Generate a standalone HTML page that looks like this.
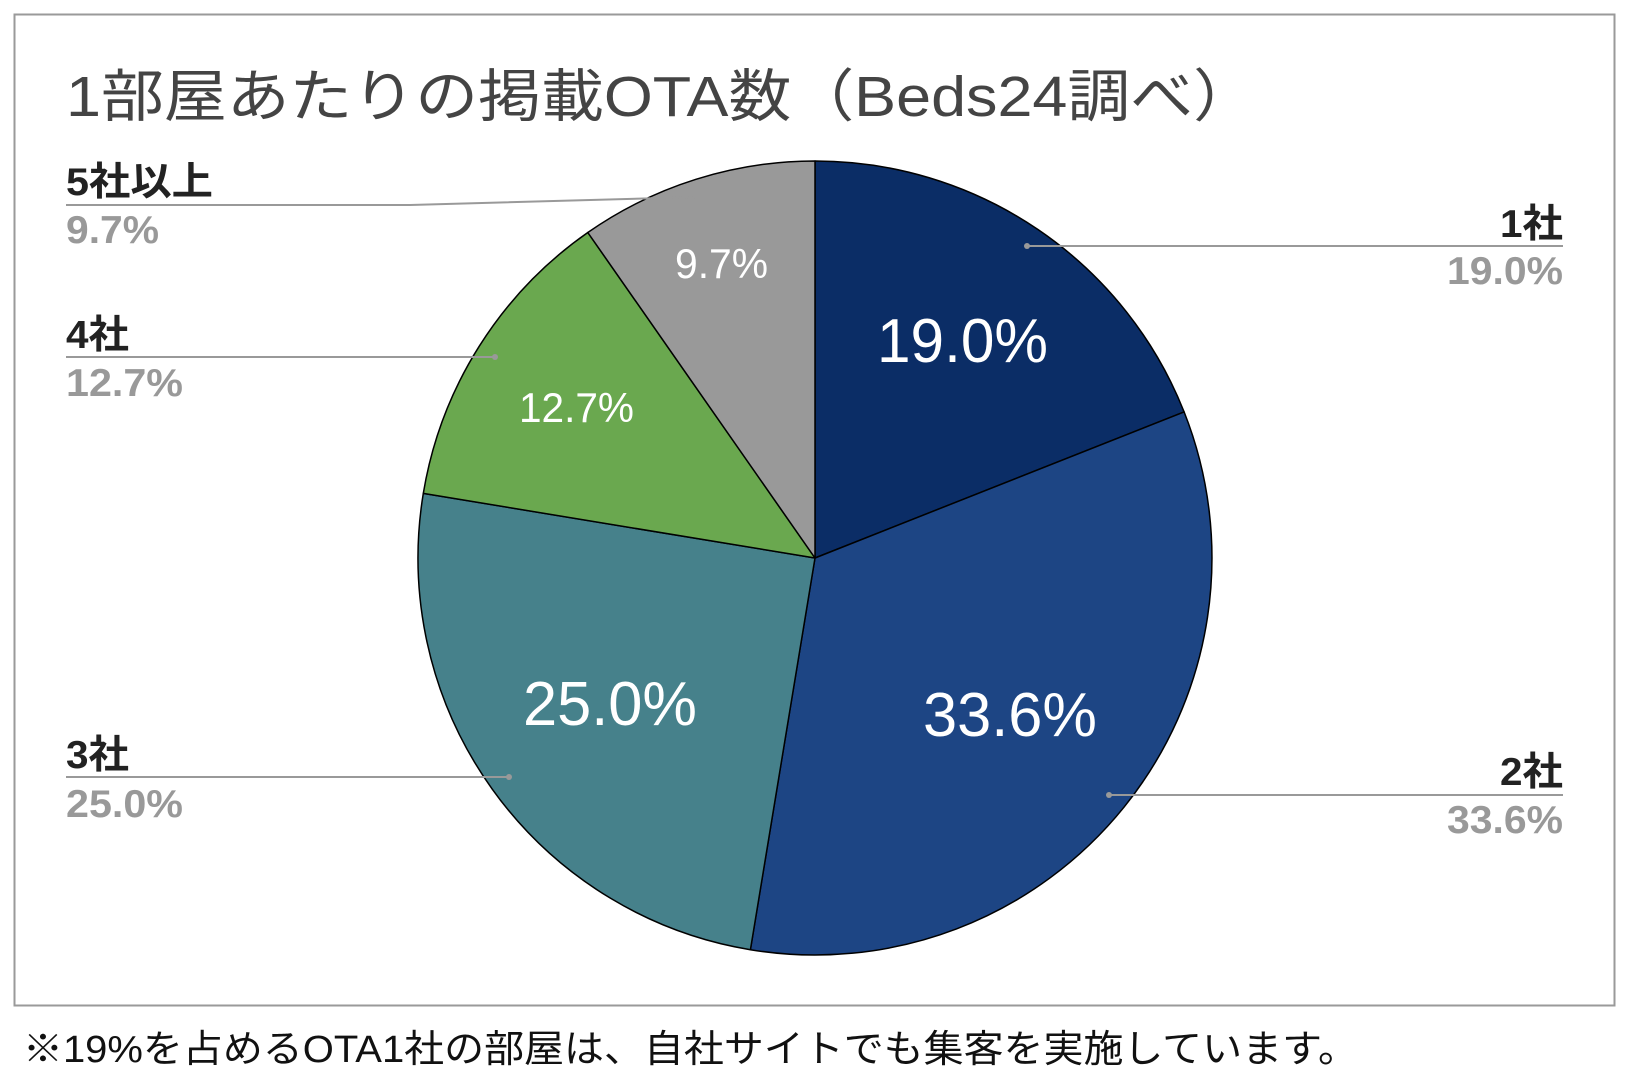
<!DOCTYPE html>
<html><head><meta charset="utf-8"><style>
html,body{margin:0;padding:0;background:#fff;}
body{width:1628px;height:1084px;overflow:hidden;}
svg text{font-family:"Liberation Sans","Noto Sans CJK JP",sans-serif;}
</style></head><body>
<svg width="1628" height="1084" viewBox="0 0 1628 1084" xmlns="http://www.w3.org/2000/svg">
<rect x="14.5" y="14.5" width="1600" height="991" fill="#fff" stroke="#9a9a9a" stroke-width="2"/>
<text x="66" y="116" font-size="57" fill="#444" textLength="1190" lengthAdjust="spacingAndGlyphs">1部屋あたりの掲載OTA数（Beds24調べ）</text>
<g stroke="#000" stroke-width="1.5" stroke-linejoin="round">
<path d="M815,558 L815,161 A397,397 0 0 1 1184.1,411.9 Z" fill="#0b2d66"/>
<path d="M815,558 L1184.1,411.9 A397,397 0 0 1 750.4,949.7 Z" fill="#1d4584"/>
<path d="M815,558 L750.4,949.7 A397,397 0 0 1 423.3,493.4 Z" fill="#46818b"/>
<path d="M815,558 L423.3,493.4 A397,397 0 0 1 587.8,232.5 Z" fill="#6aa84f"/>
<path d="M815,558 L587.8,232.5 A397,397 0 0 1 815,161 Z" fill="#999999"/>
</g>
<g fill="#fff">
<text x="877" y="362" font-size="62" textLength="171" lengthAdjust="spacingAndGlyphs">19.0%</text>
<text x="923" y="736" font-size="62" textLength="174" lengthAdjust="spacingAndGlyphs">33.6%</text>
<text x="523" y="725" font-size="62" textLength="174" lengthAdjust="spacingAndGlyphs">25.0%</text>
<text x="519" y="422" font-size="42" textLength="115" lengthAdjust="spacingAndGlyphs">12.7%</text>
<text x="675" y="278" font-size="42" textLength="93" lengthAdjust="spacingAndGlyphs">9.7%</text>
</g>
<g stroke="#999" stroke-width="2" fill="none">
<polyline points="66,205 410,205 700,197"/>
<polyline points="66,357 495,357"/>
<polyline points="66,777 509,777"/>
<polyline points="1027,246 1563,246"/>
<polyline points="1109,795 1563,795"/>
</g>
<g fill="#999"><circle cx="700" cy="197" r="3"/><circle cx="495" cy="357" r="3"/><circle cx="509" cy="777" r="3"/><circle cx="1027" cy="246" r="3"/><circle cx="1109" cy="795" r="3"/></g>
<g font-weight="bold" font-size="39">
<text x="66" y="195" fill="#222" textLength="147" lengthAdjust="spacingAndGlyphs">5社以上</text>
<text x="66" y="243" fill="#999" textLength="93" lengthAdjust="spacingAndGlyphs">9.7%</text>
<text x="66" y="348" fill="#222" textLength="63" lengthAdjust="spacingAndGlyphs">4社</text>
<text x="66" y="396" fill="#999" textLength="117" lengthAdjust="spacingAndGlyphs">12.7%</text>
<text x="66" y="768" fill="#222" textLength="63" lengthAdjust="spacingAndGlyphs">3社</text>
<text x="66" y="817" fill="#999" textLength="117" lengthAdjust="spacingAndGlyphs">25.0%</text>
<text x="1500" y="237" fill="#222" textLength="63" lengthAdjust="spacingAndGlyphs">1社</text>
<text x="1447" y="284" fill="#999" textLength="116" lengthAdjust="spacingAndGlyphs">19.0%</text>
<text x="1500" y="785" fill="#222" textLength="63" lengthAdjust="spacingAndGlyphs">2社</text>
<text x="1447" y="833" fill="#999" textLength="116" lengthAdjust="spacingAndGlyphs">33.6%</text>
</g>
<text x="23" y="1062" font-size="38" fill="#111" textLength="1335" lengthAdjust="spacingAndGlyphs">※19%を占めるOTA1社の部屋は、自社サイトでも集客を実施しています。</text>
</svg>
</body></html>
